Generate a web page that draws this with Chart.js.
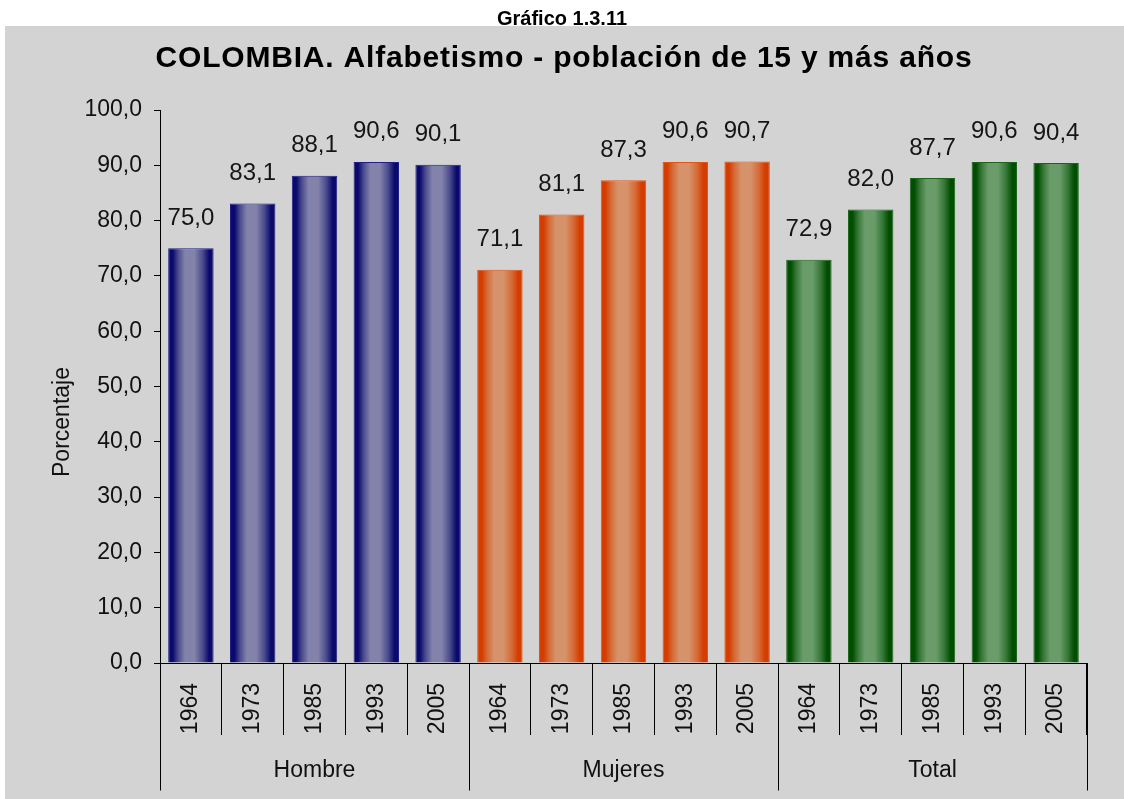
<!DOCTYPE html>
<html lang="es">
<head>
<meta charset="utf-8">
<title>Gráfico 1.3.11</title>
<script src="https://cdn.jsdelivr.net/npm/chart.js@4.4.1/dist/chart.umd.min.js"></script>
<style>
  html, body { margin: 0; padding: 0; background: #fff; }
  #wrap { position: relative; width: 1124px; height: 799px; }
  canvas { display: block; }
</style>
</head>
<body>
<div id="wrap"><canvas id="chart" width="1124" height="799"></canvas></div>
<script>
// Census years shown inside each group
const years = ['1964', '1973', '1985', '1993', '2005'];
// Population groups
const groups = ['Hombre', 'Mujeres', 'Total'];
// Literacy rate (%) for each group and census year
const hombre = [75.0, 83.1, 88.1, 90.6, 90.1];
const mujeres = [71.1, 81.1, 87.3, 90.6, 90.7];
const total = [72.9, 82.0, 87.7, 90.6, 90.4];
// Value axis range
const yMin = 0, yMax = 100, yStep = 10;

const caption = 'Gráfico 1.3.11';
const title = 'COLOMBIA. Alfabetismo - población de 15 y más años';
const yTitle = 'Porcentaje';

const labels = [].concat(years, years, years);
const values = [].concat(hombre, mujeres, total);

const shades = [
  { edge: '#0a0a6c', mid: '#4a4a8e', light: '#8282aa', line: '#1e1e86' },
  { edge: '#d43c00', mid: '#d66a36', light: '#d6926a', line: '#e25414' },
  { edge: '#004e00', mid: '#377737', light: '#6a9c6a', line: '#1c661c' }
];
const FONT = '"Liberation Sans", Arial, sans-serif';
const BAR_PCT = 0.735;
const fmt = v => Number(v).toFixed(1).replace('.', ',');
const shadeOf = i => shades[Math.floor(i / years.length)];

// Cylinder-like horizontal shading for each bar
function barFill(ctx) {
  const chart = ctx.chart;
  const sh = shadeOf(ctx.dataIndex);
  const xs = chart.scales.x;
  if (!xs || !chart.chartArea) return sh.edge;
  const cx = xs.getPixelForValue(ctx.dataIndex);
  const half = xs.width / labels.length * BAR_PCT / 2;
  const g = chart.ctx.createLinearGradient(cx - half, 0, cx + half, 0);
  g.addColorStop(0, sh.edge);
  g.addColorStop(0.1, sh.edge);
  g.addColorStop(0.22, sh.mid);
  g.addColorStop(0.37, sh.light);
  g.addColorStop(0.58, sh.light);
  g.addColorStop(0.76, sh.mid);
  g.addColorStop(0.9, sh.edge);
  g.addColorStop(1, sh.edge);
  return g;
}

// Background panel, titles, group brackets and value labels
const frame = {
  id: 'frame',
  beforeDraw(chart) {
    const c = chart.ctx;
    c.save();
    c.fillStyle = '#ffffff';
    c.fillRect(0, 0, chart.width, chart.height);
    c.fillStyle = '#d3d3d3';
    c.fillRect(5, 26, chart.width - 5, chart.height - 26);
    c.restore();
  },
  afterDraw(chart) {
    const c = chart.ctx, xs = chart.scales.x, area = chart.chartArea;
    c.save();
    c.textAlign = 'center';
    c.textBaseline = 'alphabetic';
    c.fillStyle = '#000';
    c.font = 'bold 20px ' + FONT;
    c.fillText(caption, 562, 25);
    c.font = 'bold 30px ' + FONT;
    if ('letterSpacing' in c) c.letterSpacing = '0.8px';
    c.fillText(title, 564, 66.5);
    if ('letterSpacing' in c) c.letterSpacing = '0px';

    c.save();
    c.translate(68.5, 422);
    c.rotate(-Math.PI / 2);
    c.font = '23px ' + FONT;
    c.fillStyle = '#111';
    c.fillText(yTitle, 0, 0);
    c.restore();

    const step = xs.getPixelForValue(1) - xs.getPixelForValue(0);
    c.strokeStyle = '#000';
    c.lineWidth = 1;
    for (let g = 0; g <= groups.length; g++) {
      const px = Math.round(xs.getPixelForValue(g * years.length) - step / 2) + 0.5;
      c.beginPath();
      c.moveTo(px, area.bottom);
      c.lineTo(px, 790.5);
      c.stroke();
    }
    c.font = '23px ' + FONT;
    c.fillStyle = '#111';
    groups.forEach((name, g) => {
      const a = xs.getPixelForValue(g * years.length);
      const b = xs.getPixelForValue((g + 1) * years.length - 1);
      c.fillText(name, (a + b) / 2, 776.5);
    });

    c.font = '24px ' + FONT;
    c.fillStyle = '#151515';
    chart.getDatasetMeta(0).data.forEach((bar, i) => {
      c.fillText(fmt(values[i]), bar.x, bar.y - 23.5);
    });
    c.restore();
  }
};

new Chart(document.getElementById('chart'), {
  type: 'bar',
  data: {
    labels: labels,
    datasets: [{
      data: values,
      backgroundColor: barFill,
      borderColor: ctx => shadeOf(ctx.dataIndex).line,
      borderWidth: 1,
      borderSkipped: 'start',
      barPercentage: BAR_PCT,
      categoryPercentage: 1
    }]
  },
  options: {
    responsive: false,
    animation: false,
    devicePixelRatio: 1,
    layout: { padding: { top: 110, right: 37, bottom: 0, left: 0 } },
    plugins: {
      legend: { display: false },
      title: { display: false },
      tooltip: { enabled: false }
    },
    scales: {
      x: {
        type: 'category',
        offset: true,
        z: 1,
        grid: { display: true, offset: true, drawOnChartArea: false, drawTicks: true, tickLength: 72, color: '#000', lineWidth: 1 },
        border: { display: true, color: '#000', width: 1 },
        ticks: { autoSkip: false, minRotation: 90, maxRotation: 90, padding: -52, color: '#111', font: { family: FONT, size: 23 } },
        afterFit(s) { s.height = 136; }
      },
      y: {
        min: yMin,
        max: yMax,
        z: 1,
        grid: { display: true, drawOnChartArea: false, drawTicks: true, tickLength: 6, color: '#000' },
        border: { display: true, color: '#000', width: 1 },
        ticks: { stepSize: yStep, padding: 12, color: '#111', font: { family: FONT, size: 23 }, callback: v => fmt(v) },
        afterFit(s) { s.width = 160; }
      }
    }
  },
  plugins: [frame]
});
</script>
</body>
</html>
